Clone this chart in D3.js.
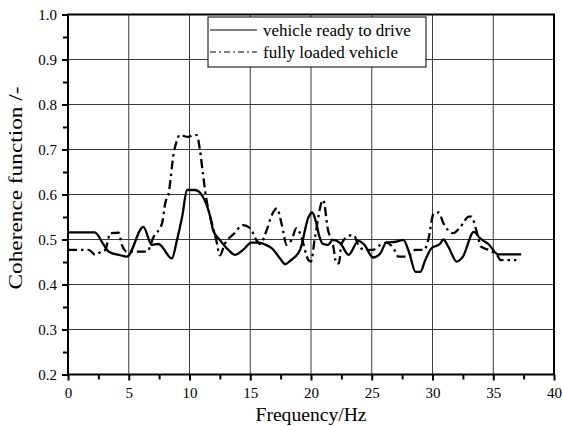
<!DOCTYPE html>
<html><head><meta charset="utf-8">
<script src="https://cdn.jsdelivr.net/npm/d3@7"></script>
<style>
html,body{margin:0;padding:0;background:#fff;}
svg text{font-family:"Liberation Serif","Times New Roman",serif;fill:#000;}
</style>
</head><body>
<svg id="chart" width="562" height="426"></svg>
<script>
// ---- data ----
const freqReady = [0,2.2,2.9,3.35,4.3,4.85,6.2,6.9,7.45,8.55,8.97,9.4,9.8,10.45,11.1,11.7,11.95,12.5,13.2,13.74,14.4,15.1,15.8,16.1,16.8,17.45,17.86,18.3,19.1,19.8,20.1,20.4,20.7,21.0,21.4,21.8,22.4,23.1,23.9,24.4,25.1,25.7,26.2,27.0,27.6,28.1,28.6,29.0,29.4,29.9,30.6,30.9,31.3,32.0,32.5,33.4,33.9,34.6,35.4,37.3];
const cohReady  = [0.516,0.516,0.49,0.473,0.465,0.462,0.528,0.488,0.49,0.458,0.499,0.551,0.61,0.61,0.595,0.551,0.52,0.499,0.477,0.466,0.477,0.493,0.493,0.49,0.48,0.458,0.445,0.453,0.477,0.55,0.56,0.54,0.506,0.49,0.488,0.499,0.492,0.466,0.497,0.488,0.46,0.469,0.493,0.495,0.499,0.469,0.428,0.428,0.454,0.48,0.49,0.5,0.484,0.451,0.462,0.517,0.503,0.49,0.467,0.467];
const freqLoaded = [0,1.7,2.25,2.66,3.07,3.48,4.17,4.44,4.85,6.5,7.05,7.74,8.0,8.3,8.7,8.97,9.16,9.9,10.3,10.6,10.86,11.1,11.4,11.7,12.2,12.5,12.9,13.7,14.4,15.0,15.5,15.8,16.35,16.77,17.2,17.6,18.0,18.4,18.8,19.1,19.8,20.0,20.3,21.0,21.4,21.8,22.1,22.3,22.5,23.1,23.5,23.9,24.4,25.1,25.7,26.2,26.8,27.2,27.9,28.6,29.3,29.65,30.1,30.5,30.9,31.7,32.3,33.0,33.2,33.6,34.0,34.6,35.4,35.6,36.9];
const cohLoaded  = [0.477,0.477,0.466,0.472,0.477,0.514,0.515,0.488,0.473,0.473,0.506,0.536,0.58,0.606,0.692,0.72,0.732,0.728,0.732,0.732,0.699,0.647,0.588,0.551,0.499,0.465,0.49,0.514,0.532,0.525,0.499,0.49,0.521,0.554,0.569,0.532,0.488,0.499,0.525,0.514,0.454,0.451,0.5,0.588,0.521,0.49,0.447,0.447,0.49,0.508,0.51,0.488,0.477,0.477,0.488,0.493,0.48,0.462,0.462,0.477,0.477,0.499,0.558,0.56,0.536,0.514,0.528,0.551,0.551,0.521,0.484,0.477,0.462,0.454,0.454];
const xTicks = [0,5,10,15,20,25,30,35,40];
const yTicks = [0.2,0.3,0.4,0.5,0.6,0.7,0.8,0.9,1.0];
const seriesNames = ["vehicle ready to drive","fully loaded vehicle"];
const xTitle = "Frequency/Hz";
const yTitle = "Coherence function /-";

// ---- layout ----
const svg = d3.select("#chart");
const L = 68, R = 554, T = 14.5, B = 374.5;
const x = d3.scaleLinear().domain([0,40]).range([L,R]);
const y = d3.scaleLinear().domain([0.2,1.0]).range([B,T]);

// grid
const g = svg.append("g");
g.selectAll(".vg").data(xTicks.slice(1,-1)).enter().append("line")
  .attr("x1",d=>x(d)).attr("x2",d=>x(d)).attr("y1",T).attr("y2",B)
  .attr("stroke","#3a3a3a").attr("stroke-width",1);
g.selectAll(".hg").data(yTicks.slice(1,-1)).enter().append("line")
  .attr("y1",d=>y(d)).attr("y2",d=>y(d)).attr("x1",L).attr("x2",R)
  .attr("stroke","#3a3a3a").attr("stroke-width",1);

// axes
const xAxis = d3.axisBottom(x).tickValues(xTicks).tickSize(6).tickPadding(7).tickFormat(d3.format("d"));
const xMinor = d3.axisBottom(x).tickValues(d3.range(2.5,40,5)).tickSize(5).tickFormat("");
const yAxis = d3.axisLeft(y).tickValues(yTicks).tickSize(6).tickPadding(5).tickFormat(d3.format(".1f"));
const yMinor = d3.axisLeft(y).tickValues(d3.range(0.25,1.0,0.1)).tickSize(5).tickFormat("");

function styleAxis(sel){
  sel.select(".domain").remove();
  sel.selectAll("line").attr("stroke","#000").attr("stroke-width",2);
  sel.selectAll("text").attr("font-size",15).attr("font-family","Liberation Serif").attr("fill","#000");
}
svg.append("g").attr("transform",`translate(0,${B})`).call(xAxis).call(styleAxis);
svg.append("g").attr("transform",`translate(0,${B})`).call(xMinor).call(styleAxis);
svg.append("g").attr("transform",`translate(${L},0)`).call(yAxis).call(styleAxis);
svg.append("g").attr("transform",`translate(${L},0)`).call(yMinor).call(styleAxis);

// frame
svg.append("rect").attr("x",L).attr("y",T).attr("width",R-L).attr("height",B-T)
  .attr("fill","none").attr("stroke","#000").attr("stroke-width",2);

// lines
const line = d3.line().x(d=>x(d[0])).y(d=>y(d[1])).curve(d3.curveMonotoneX);
const dReady = freqReady.map((f,i)=>[f,cohReady[i]]);
const dLoaded = freqLoaded.map((f,i)=>[f,cohLoaded[i]]);
svg.append("path").datum(dReady).attr("d",line).attr("fill","none")
  .attr("stroke","#000").attr("stroke-width",2.3).attr("stroke-linejoin","round");
svg.append("path").datum(dLoaded).attr("d",line).attr("fill","none")
  .attr("stroke","#000").attr("stroke-width",2.3).attr("stroke-dasharray","9,4,2.5,4");

// legend
const lg = svg.append("g");
lg.append("rect").attr("x",208).attr("y",17).attr("width",218).attr("height",50)
  .attr("fill","#fff").attr("stroke","#000").attr("stroke-width",1);
const rows = [30,52];
lg.append("line").attr("x1",210).attr("x2",257).attr("y1",rows[0]).attr("y2",rows[0])
  .attr("stroke","#000").attr("stroke-width",1);
lg.append("line").attr("x1",210).attr("x2",257).attr("y1",rows[1]).attr("y2",rows[1])
  .attr("stroke","#000").attr("stroke-width",1).attr("stroke-dasharray","6,3,2,3");
seriesNames.forEach((n,i)=>{
  lg.append("text").attr("x",263).attr("y",rows[i]).attr("dy","0.35em")
    .attr("font-size",17).text(n);
});

// titles
svg.append("text").attr("x",x(20)).attr("y",421).attr("text-anchor","middle")
  .attr("font-size",18).attr("textLength",111).attr("lengthAdjust","spacingAndGlyphs").text(xTitle);
svg.append("text").attr("transform",`translate(22,${188}) rotate(-90)`).attr("text-anchor","middle")
  .attr("font-size",18).attr("textLength",203).attr("lengthAdjust","spacingAndGlyphs").text(yTitle);
</script>
</body></html>
